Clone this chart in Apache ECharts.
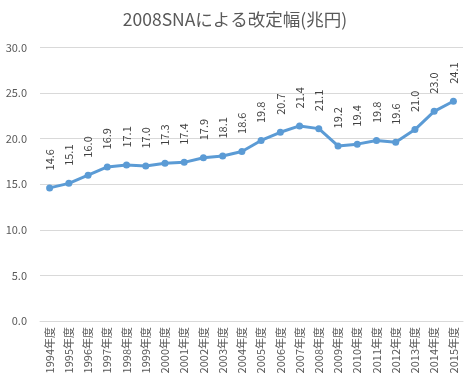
<!DOCTYPE html>
<html><head><meta charset="utf-8">
<script src="https://cdn.jsdelivr.net/npm/echarts@6/dist/echarts.min.js"></script>
<style>html,body{margin:0;padding:0;background:#fff}#c{width:470px;height:388px}</style>
</head><body><div id="c"></div>
<script>
const categories = ["1994年度","1995年度","1996年度","1997年度","1998年度","1999年度","2000年度","2001年度","2002年度","2003年度","2004年度","2005年度","2006年度","2007年度","2008年度","2009年度","2010年度","2011年度","2012年度","2013年度","2014年度","2015年度"];
const revision = [14.6,15.1,16.0,16.9,17.1,17.0,17.3,17.4,17.9,18.1,18.6,19.8,20.7,21.4,21.1,19.2,19.4,19.8,19.6,21.0,23.0,24.1];
const titleText = "2008SNAによる改定幅(兆円)";
const font = "'Noto Sans CJK JP', 'Noto Sans', sans-serif";
const chart = echarts.init(document.getElementById('c'));
chart.setOption({
  animation: false,
  title: { text: titleText, left: 'center', top: 6,
    textStyle: { fontFamily: font, fontSize: 17.5, fontWeight: 'normal', color: '#595959' } },
  grid: { left: 40, right: 7, top: 47.5, bottom: 67 },
  xAxis: { type: 'category', data: categories, boundaryGap: true,
    axisLine: { lineStyle: { color: '#d9d9d9', width: 1 } },
    axisTick: { show: false },
    axisLabel: { rotate: 90, interval: 0, fontFamily: font, fontSize: 11, color: '#595959', margin: 6 } },
  yAxis: { type: 'value', min: 0, max: 30, interval: 5,
    axisLine: { show: false }, axisTick: { show: false },
    splitLine: { lineStyle: { color: '#d9d9d9', width: 1 } },
    axisLabel: { formatter: v => v.toFixed(1), fontFamily: font, fontSize: 11, color: '#595959', margin: 13 } },
  series: [{ type: 'line', data: revision,
    lineStyle: { color: '#5b9bd5', width: 3 },
    itemStyle: { color: '#5b9bd5' },
    symbol: 'circle', symbolSize: 7,
    label: { show: true, position: 'top', rotate: 90, align: 'left', verticalAlign: 'middle', distance: 14,
      formatter: p => p.value.toFixed(1), fontFamily: font, fontSize: 11, color: '#404040' } }]
});
</script></body></html>
